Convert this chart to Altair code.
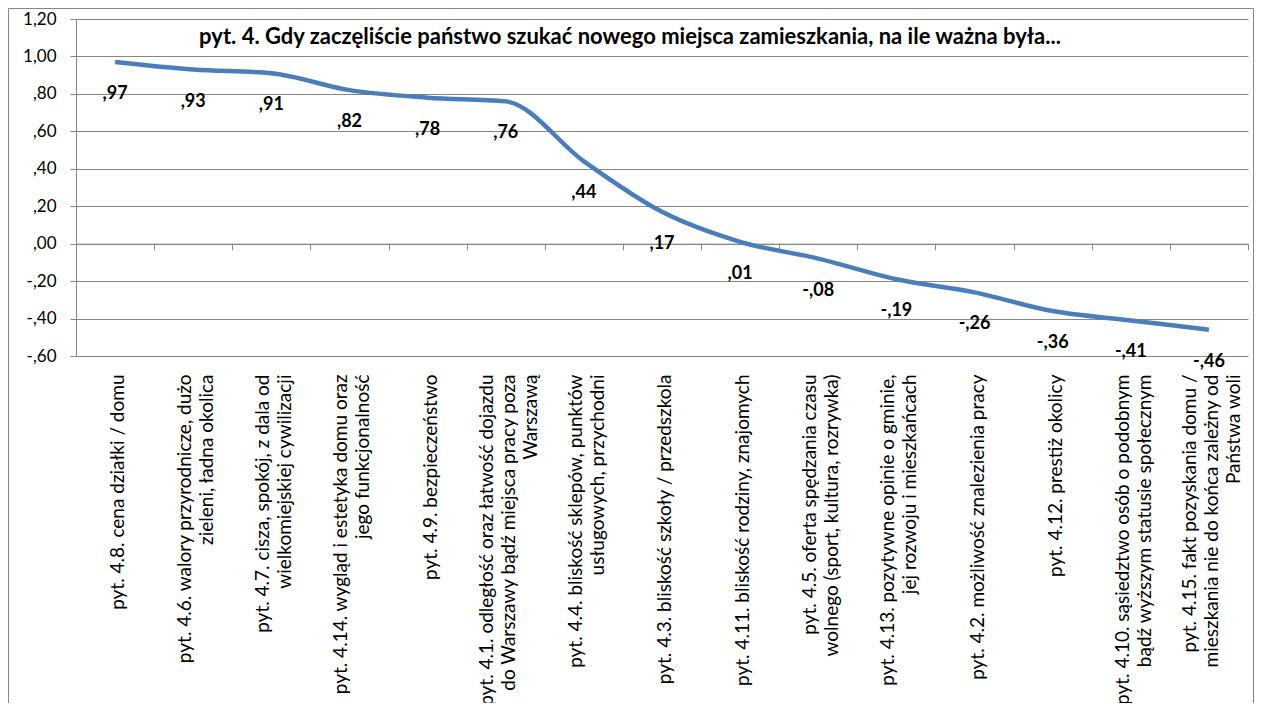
import altair as alt
import pandas as pd

categories = [
    "pyt. 4.8. cena działki / domu",
    "pyt. 4.6. walory przyrodnicze, dużo|zieleni, ładna okolica",
    "pyt. 4.7. cisza, spokój, z dala od|wielkomiejskiej cywilizacji",
    "pyt. 4.14. wygląd i estetyka domu oraz|jego funkcjonalność",
    "pyt. 4.9. bezpieczeństwo",
    "pyt. 4.1. odległość oraz łatwość dojazdu|do Warszawy bądź miejsca pracy poza|Warszawą",
    "pyt. 4.4. bliskość sklepów, punktów|usługowych, przychodni",
    "pyt. 4.3. bliskość szkoły / przedszkola",
    "pyt. 4.11. bliskość rodziny, znajomych",
    "pyt. 4.5. oferta spędzania czasu|wolnego (sport, kultura, rozrywka)",
    "pyt. 4.13. pozytywne opinie o gminie,|jej rozwoju i mieszkańcach",
    "pyt. 4.2. możliwość znalezienia pracy",
    "pyt. 4.12. prestiż okolicy",
    "pyt. 4.10. sąsiedztwo osób o podobnym|bądź wyższym statusie społecznym",
    "pyt. 4.15. fakt pozyskania domu /|mieszkania nie do końca zależny od|Państwa woli",
]
values = [0.97, 0.93, 0.91, 0.82, 0.78, 0.76, 0.44, 0.17, 0.01,
          -0.08, -0.19, -0.26, -0.36, -0.41, -0.46]
y_ticks = [-0.6, -0.4, -0.2, 0.0, 0.2, 0.4, 0.6, 0.8, 1.0, 1.2]
title_text = "pyt. 4. Gdy zaczęliście państwo szukać nowego miejsca zamieszkania, na ile ważna była..."


def pl(v):
    s = f"{v:.2f}"
    if abs(v) < 1:
        s = s.replace("0.", ".", 1)
    return s.replace(".", ",")


# rough advance widths (em) to centre the wrapped lines of each category label
NARROW = set("il.,;:!|'jłI")
SEMI = set("ftr/() ")
SMALL = set("szcżźśćv")
WIDE = set("mwM")


def est_width(s):
    w = 0.0
    for ch in s:
        if ch in NARROW:
            w += 0.24
        elif ch in SEMI:
            w += 0.32
        elif ch in SMALL:
            w += 0.43
        elif ch in WIDE:
            w += 0.78
        elif ch.isdigit():
            w += 0.58
        elif ch.isupper():
            w += 0.68
        else:
            w += 0.53
    return w


NBSP_W = 0.193


def centred(label):
    lines = label.split("|")
    widths = [est_width(l) for l in lines]
    m = max(widths)
    out = []
    for l, w in zip(lines, widths):
        n = int(round((m - w) / 2 / NBSP_W))
        out.append(l + "\u00a0" * n)
    return "|".join(out)


display = [centred(c) for c in categories]

df = pd.DataFrame({"cat": display, "v": values, "lbl": [pl(v) for v in values]})

W, H = 1172, 337
GRAY = "#878787"
FONT = "Lato"
LINE_H = 22

xscale = alt.Scale(type="band", paddingInner=0, paddingOuter=0)
yscale = alt.Scale(domain=[-0.6, 1.2], nice=False, zero=False)

y_label_expr = (
    "datum.value >= 0.995 ? replace(format(datum.value, '.2f'), '.', ',') : "
    "(datum.value < -0.001 ? '-,' : ',') + substring(format(abs(datum.value), '.2f'), 2)"
)

y_axis = alt.Axis(
    values=y_ticks, labelExpr=y_label_expr, labelFont=FONT, labelFontSize=17,
    labelColor="black", labelPadding=14, tickSize=6, tickColor=GRAY,
    domainColor=GRAY, gridColor=GRAY, grid=True, labelOverlap=False,
    orient="left",
)

base = alt.Chart(df)

line = base.mark_line(color="#4A7EBB", strokeWidth=4.5, interpolate="monotone").encode(
    x=alt.X(
        "cat:N", sort=display, scale=xscale, bandPosition=0.5, title=None,
        axis=alt.Axis(
            orient="bottom",
            labelAngle=-90, labelAlign="right", labelBaseline="middle",
            labelExpr="split(datum.label, '|')", labelFont=FONT, labelFontSize=19,
            labelColor="black", labelLimit=600, labelLineHeight=LINE_H,
            labelOffset=alt.ExprRef(
                expr=f"3 - (length(split(datum.label, '|')) - 1) * {LINE_H / 2}"
            ),
            labelPadding=18, ticks=False, domain=False, grid=False,
            labelOverlap=False,
        ),
    ),
    y=alt.Y("v:Q", scale=yscale, title=None, axis=y_axis),
)

tick_layer = base.mark_line(strokeOpacity=0).encode(
    x=alt.X(
        "cat:N", sort=display, scale=xscale, bandPosition=0.5, title=None,
        axis=alt.Axis(
            orient="bottom",
            labels=False, domain=True, domainColor=GRAY, ticks=True, tickColor=GRAY,
            tickSize=6, tickBand="extent", grid=False, offset=-H / 3,
        ),
    ),
    y=alt.Y("v:Q", scale=yscale, title=None, axis=y_axis),
)

text = base.mark_text(font=FONT, fontSize=18, fontWeight="bold", color="black",
                      baseline="middle", align="center", dy=32).encode(
    x=alt.X("cat:N", sort=display, scale=xscale, bandPosition=0.5, axis=None),
    y=alt.Y("v:Q", scale=yscale, title=None, axis=y_axis),
    text="lbl:N",
)

frame = alt.Chart(pd.DataFrame({"k": [0]})).mark_rect(
    fillOpacity=0, stroke=GRAY, strokeWidth=1
).encode(
    x=alt.value(-67.5), x2=alt.value(W + 5.5),
    y=alt.value(-10.5), y2=alt.value(H + 420),
)

chart = (
    alt.layer(frame, tick_layer, line, text)
    .resolve_axis(x="independent")
    .properties(
        width=W, height=H,
        padding={"left": 68, "top": 11, "right": 6, "bottom": 347},
        autosize=alt.AutoSizeParams(type="none"),
        background="white",
        title=alt.TitleParams(
            title_text, font=FONT, fontSize=22, fontWeight="bold", color="black",
            anchor="middle", frame="group", orient="top", baseline="middle",
            offset=0, dx=-32, dy=51,
        ),
    )
    .configure_view(stroke=None)
)

chart.save("out.html", embed_options={"renderer": "svg", "actions": False})
